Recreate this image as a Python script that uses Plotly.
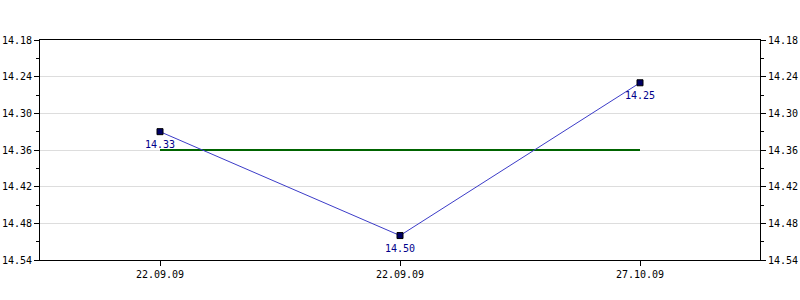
import plotly.graph_objects as go

dates = ["22.09.09", "22.09.09", "27.10.09"]
values = [14.33, 14.50, 14.25]
avg_value = 14.36
y_ticks = [14.18, 14.24, 14.30, 14.36, 14.42, 14.48, 14.54]

xs = list(range(len(dates)))
font = dict(family="DejaVu Sans Mono", size=10, color="#000000")

fig = go.Figure()
fig.add_trace(go.Scatter(x=[xs[0], xs[-1]], y=[avg_value, avg_value], mode="lines",
                         line=dict(color="#006400", width=2), hoverinfo="skip", showlegend=False))
fig.add_trace(go.Scatter(x=xs, y=values, mode="lines+markers",
                         line=dict(color="#3c3cc8", width=1),
                         marker=dict(symbol="square", size=6, color="#000066",
                                     line=dict(color="#000000", width=1)),
                         showlegend=False))
fig.add_trace(go.Scatter(x=[xs[0]], y=[values[0]], yaxis="y2", mode="markers",
                         marker=dict(opacity=0), hoverinfo="skip", showlegend=False))

for x, v in zip(xs, values):
    fig.add_annotation(x=x, y=v, text=f"{v:.2f}", showarrow=False, yshift=-13,
                       font=dict(family="DejaVu Sans Mono", size=10, color="#00008b"))

yax = dict(range=[y_ticks[-1], y_ticks[0]], tickvals=y_ticks,
           ticktext=[f"{t:.2f}" for t in y_ticks], automargin=False,
           showgrid=True, gridcolor="#dddddd", gridwidth=1, zeroline=False,
           showline=True, linecolor="#000000", linewidth=1,
           ticks="outside", ticklen=5, tickcolor="#000000", tickfont=font,
           minor=dict(dtick=0.03, tick0=14.18, ticks="outside", ticklen=3, tickcolor="#000000", showgrid=False))

fig.update_layout(
    width=800, height=300,
    margin=dict(l=40, r=40, t=40, b=40),
    paper_bgcolor="#ffffff", plot_bgcolor="#ffffff",
    xaxis=dict(range=[-0.5, len(dates) - 0.5], tickvals=xs, ticktext=dates, automargin=False,
               showgrid=False, zeroline=False, showline=True, linecolor="#000000", linewidth=1,
               mirror=True, ticks="outside", ticklen=5, tickcolor="#000000", tickfont=font),
    yaxis=yax,
    yaxis2=dict(yax, overlaying="y", side="right", matches="y", showgrid=False),
)

fig.write_html("out.html")
